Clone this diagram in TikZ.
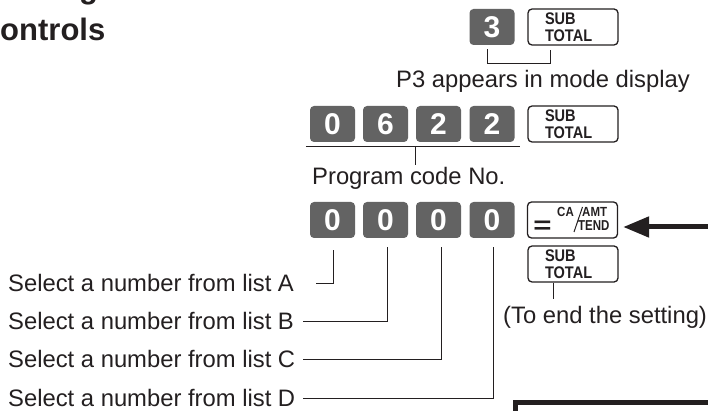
\documentclass[tikz,border=0pt]{standalone}
\usepackage{fontspec}
\setmainfont{Liberation Sans}
\usetikzlibrary{arrows.meta,calc}
\definecolor{keygray}{RGB}{99,99,99}
\definecolor{ink}{RGB}{35,31,32}
\newcommand{\tallsub}{\scalebox{0.97}[1.12]{SUB}\\\scalebox{0.97}[1.12]{TOTAL}}
\begin{document}
\begin{tikzpicture}[x=1pt,y=-1pt,
  numkey/.style={fill=keygray, rounded corners=4pt, minimum width=45pt, minimum height=36pt,
    inner sep=0pt, text=white, font=\fontsize{30}{30}\bfseries\selectfont},
  fnkey/.style={draw=ink, fill=white, line width=1.3pt, rounded corners=4pt,
    minimum height=36pt, inner ysep=0pt, inner xsep=17pt, text width=56pt, align=left,
    text=ink, font=\fontsize{15}{16.5}\bfseries\selectfont},
  keycap/.style={inner sep=0pt, text=ink, font=\fontsize{11.5}{12}\bfseries\selectfont},
  lbl/.style={inner sep=0pt, text=ink, font=\fontsize{23.8}{28}\selectfont},
  lead/.style={draw=ink, line width=0.9pt},
  ttl/.style={inner sep=0pt, text=ink, font=\fontsize{31}{36}\bfseries\selectfont}]
\useasboundingbox (0,0) rectangle (708,411);

% title (cut off)
\node[ttl, anchor=base west] (titleg) at (79,-1.5) {g};
\node[ttl, anchor=base east] (title) at (105.5,41) {Controls};

% row 1
\node[numkey] (k3) at (492,27) {3};
\node[fnkey] (sub1) at (573,27) {\tallsub};
\draw[lead] ($(k3.south)+(-5,4)$) -- ++(0,14) -| ($(sub1.south)+(-23,4)$);
\node[lbl, anchor=base] (p3txt) at (543,88) {P3 appears in mode display};

% row 2
\node[numkey] (r2a) at (332.5,124) {0};
\node[numkey] (r2b) at (385.5,124) {6};
\node[numkey] (r2c) at (438.5,124) {2};
\node[numkey] (r2d) at (492,124) {2};
\node[fnkey] (sub2) at (573,124) {\tallsub};
\draw[lead] ($(r2a.south west)+(-4,4)$) -- ($(r2d.south east)+(5,4)$);
\draw[lead] ($(r2c.south west)+(0,4)$) -- ++(0,19);
\node[lbl, anchor=base west] (codetxt) at (312,185) {Program code No.};

% row 3
\node[numkey] (r3a) at (332.5,220) {0};
\node[numkey] (r3b) at (385.5,220) {0};
\node[numkey] (r3c) at (438.5,220) {0};
\node[numkey] (r3d) at (492,220) {0};
\node[fnkey] (ca) at (572.5,220) {};
\node[inner sep=0pt, text=ink, font=\fontsize{24}{24}\bfseries\selectfont] (caeq) at (542.5,227) {\scalebox{1.3}[1]{=}};
\node[keycap, anchor=base west] (caca) at (557,216.5) {\scalebox{1}[1.15]{CA}};
\node[keycap, anchor=base west] (caamt) at (582,217) {\scalebox{1}[1.15]{AMT}};
\node[keycap, anchor=base west] (catend) at (578,231) {\scalebox{1}[1.25]{TEND}};
\draw[ink, line width=1pt] (574,232) -- (582.5,207);

\coordinate (arrowtail) at (715,227);
\draw[ink, line width=5pt, -{Triangle[length=26pt,width=20pt]}, shorten >=5pt]
  (arrowtail) -- ($(ca.east)+(0,7)$);

\node[fnkey] (sub3) at (573,264) {\tallsub};
\draw[lead] ($(sub3.south)+(-20,0)$) -- ++(0,16);
\node[lbl, anchor=base west] (endtxt) at (503,323) {(To end the setting)};

% list labels
\node[lbl, anchor=west] (selA) at (8,283) {Select a number from list A};
\node[lbl, anchor=west] (selB) at (8,321) {Select a number from list B};
\node[lbl, anchor=west] (selC) at (8,359) {Select a number from list C};
\node[lbl, anchor=west] (selD) at (8,398) {Select a number from list D};
\draw[lead] ($(r3a.south)+(1,12)$) |- ($(selA.east)+(22,0)$);
\draw[lead] ($(r3b.south)+(1.5,9)$) |- ($(selB.east)+(9,0)$);
\draw[lead] ($(r3c.south)+(2.5,9)$) |- ($(selC.east)+(8,0)$);
\draw[lead] ($(r3d.south)+(1,9)$) |- ($(selD.east)+(8,0)$);

% thick box at bottom right
\draw[ink, line width=5pt] (515.5,402.5) rectangle (740,440);
\end{tikzpicture}
\end{document}
